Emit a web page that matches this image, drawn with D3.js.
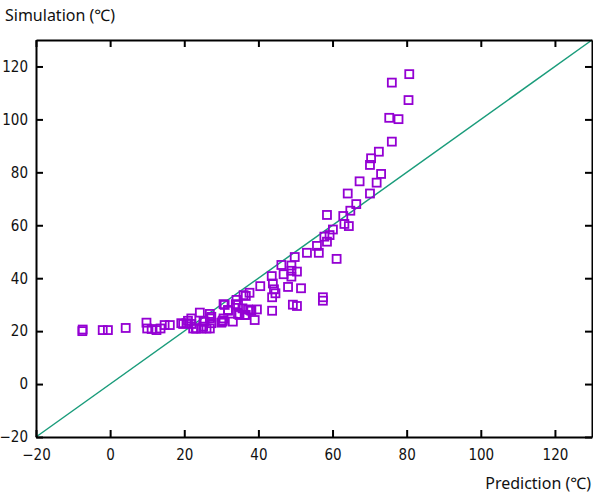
<!DOCTYPE html>
<html>
<head>
<meta charset="utf-8">
<script src="https://cdn.jsdelivr.net/npm/d3@7"></script>
<style>
  body { margin: 0; background: #fff; }
  .tick text { font-family: "Liberation Sans Narrow", "DejaVu Sans Condensed", sans-serif; font-size: 15px; fill: #111; }
  .label { font-family: "Noto Sans", sans-serif; font-size: 16px; fill: #111; }
</style>
</head>
<body>
<div id="wrapper"></div>
<script>
// prediction (x) vs simulation (y)
const prediction = [-7.5, -7.4, -2.0, -0.6, 4.2,
  9.8, 10.0, 11.2, 12.5, 13.6, 14.7, 16.1,
  19.2, 19.7, 20.6, 21.0, 21.9, 21.9, 22.4, 23.1, 23.3, 24.2, 24.6, 25.1, 25.2, 25.5, 26.0, 26.9, 26.9, 26.9, 27.3, 27.3,
  30.0, 30.3, 30.4, 30.6, 30.6, 30.9, 31.8, 31.8, 33.1, 33.9, 34.1, 34.5, 34.5, 34.9, 35.7, 36.0, 36.3, 36.6, 36.6, 37.2, 37.6, 37.8, 38.1, 39.0, 39.6, 40.5,
  43.6, 43.7, 43.7, 43.9, 44.2, 44.6, 46.2, 46.8, 48.0, 48.9, 48.9, 48.9, 49.3, 49.8, 50.4, 50.4, 51.5, 53.1, 55.8, 56.3, 57.4, 57.4, 57.8, 58.5, 58.5, 59.2, 60.1, 61.1, 62.9, 63.2, 64.1, 64.4, 64.8, 66.4, 67.3, 70.1, 70.1, 70.4, 71.9, 72.5, 73.1, 75.3, 76.0, 76.0, 77.8, 80.5, 80.7];
const simulation = [20.0, 20.6, 20.4, 20.4, 21.2,
  23.2, 21.0, 20.8, 20.4, 21.0, 22.3, 22.3,
  23.0, 22.7, 23.0, 23.9, 24.8, 22.7, 21.0, 21.0, 21.0, 27.0, 21.0, 21.7, 23.6, 23.6, 21.0, 26.5, 24.8, 21.0, 23.0, 25.4,
  23.2, 23.6, 24.0, 24.8, 30.2, 29.9, 28.0, 27.7, 23.6, 30.2, 31.8, 29.9, 26.5, 26.1, 28.6, 33.6, 26.1, 33.3, 26.1, 28.2, 34.5, 28.0, 27.7, 24.2, 28.2, 37.0,
  40.8, 32.8, 27.7, 38.0, 35.8, 34.3, 45.0, 41.5, 36.7, 44.8, 42.8, 40.6, 30.0, 48.0, 42.5, 29.5, 36.2, 49.6, 52.2, 49.6, 32.8, 31.5, 55.7, 53.8, 63.9, 56.3, 58.4, 47.3, 63.5, 60.5, 72.0, 59.7, 65.5, 68.0, 76.6, 72.0, 82.8, 85.3, 76.1, 87.8, 79.4, 100.6, 91.6, 113.9, 100.1, 107.3, 117.1];
const ticks = [-20, 0, 20, 40, 60, 80, 100, 120];
const domain = [-20, 130];

const width = 593, height = 495;
const margin = { top: 40, right: 1, bottom: 58, left: 36 };

const svg = d3.select("#wrapper").append("svg")
  .attr("width", width)
  .attr("height", height);

const x = d3.scaleLinear().domain(domain).range([margin.left, width - margin.right]);
const y = d3.scaleLinear().domain(domain).range([height - margin.bottom, margin.top]);

// y = x reference line
svg.append("line")
  .attr("x1", x(domain[0])).attr("y1", y(domain[0]))
  .attr("x2", x(domain[1])).attr("y2", y(domain[1]))
  .attr("stroke", "#1a9c7b")
  .attr("stroke-width", 1.5);

// points
const pts = prediction.map((p, i) => ({ p, s: simulation[i] }));
const sz = 8;
svg.append("g").selectAll("rect").data(pts).join("rect")
  .attr("x", d => x(d.p) - sz / 2)
  .attr("y", d => y(d.s) - sz / 2)
  .attr("width", sz).attr("height", sz)
  .attr("fill", "none")
  .attr("stroke", "#9400d3")
  .attr("stroke-width", 1.8);

// axes with inward ticks, mirrored on top and right
const styleAxis = g => {
  g.select(".domain").attr("stroke", "#000").attr("stroke-width", 2);
  g.selectAll(".tick line").attr("stroke", "#000").attr("stroke-width", 2);
};
svg.append("g")
  .attr("transform", `translate(0,${y(domain[0])})`)
  .call(d3.axisBottom(x).tickValues(ticks).tickSize(-7).tickSizeOuter(0).tickPadding(12))
  .call(styleAxis);
svg.append("g")
  .attr("transform", `translate(${x(domain[0])},0)`)
  .call(d3.axisLeft(y).tickValues(ticks).tickSize(-7).tickSizeOuter(0).tickPadding(8))
  .call(styleAxis);
svg.append("g")
  .attr("transform", `translate(0,${y(domain[1])})`)
  .call(d3.axisTop(x).tickValues(ticks).tickSize(-7).tickSizeOuter(0).tickFormat(""))
  .call(styleAxis);
svg.append("g")
  .attr("transform", `translate(${x(domain[1])},0)`)
  .call(d3.axisRight(y).tickValues(ticks).tickSize(-7).tickSizeOuter(0).tickFormat(""))
  .call(styleAxis);

svg.append("text").attr("class", "label")
  .attr("x", 5).attr("y", 21)
  .text("Simulation (℃)");
svg.append("text").attr("class", "label")
  .attr("x", 591).attr("y", 489)
  .attr("text-anchor", "end")
  .text("Prediction (℃)");
</script>
</body>
</html>
